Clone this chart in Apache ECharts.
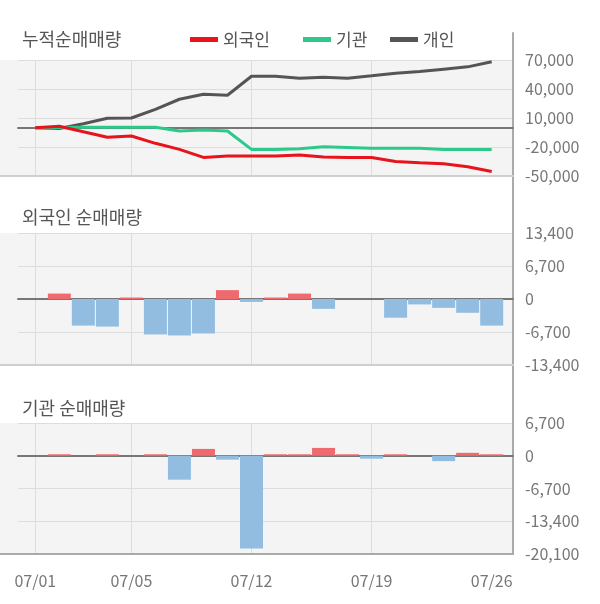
<!DOCTYPE html>
<html>
<head>
<meta charset="utf-8">
<script src="https://cdn.jsdelivr.net/npm/echarts@6/dist/echarts.min.js"></script>
<style>
html,body{margin:0;padding:0;background:#fff;}
#chart{width:600px;height:604px;}
</style>
</head>
<body>
<div id="chart"></div>
<script>
// ---- data ----
const dates = ['07/01','07/02','07/03','07/04','07/05','07/08','07/09','07/10','07/11','07/12',
               '07/15','07/16','07/17','07/18','07/19','07/22','07/23','07/24','07/25','07/26'];
const foreignCum  = [0, 1500, -4300, -10000, -8600, -16200, -22500, -30800, -29400, -29400,
                     -29400, -28300, -30400, -30800, -30800, -34900, -36300, -37300, -40400, -45300];
const instCum     = [0, 300, 500, 500, 500, 500, -3500, -2400, -3500, -22500,
                     -22500, -21800, -19700, -20400, -21400, -21400, -21400, -22500, -22500, -22500];
const personalCum = [0, -800, 4100, 9700, 10000, 19000, 29400, 34600, 33500, 53200,
                     53200, 51200, 52200, 51200, 53600, 56300, 58000, 60500, 62900, 68100];
const foreignNet  = [0, 1100, -5400, -5600, 300, -7200, -7400, -7000, 1800, -600,
                     300, 1100, -2000, 0, 0, -3800, -1100, -1800, -2800, -5400];
const instNet     = [0, 300, 0, 300, 0, 300, -4900, 1400, -800, -19000,
                     300, 300, 1600, 300, -600, 300, 0, -1100, 600, 300];
const cumAxis     = [-50000, 70000, 30000];   // min, max, interval
const foreignAxis = [-13400, 13400, 6700];
const instAxis    = [-20100, 6700, 6700];
const labelIdx    = [0, 4, 9, 14, 19];
const gridIdx     = [0, 4, 9, 14];
const titles      = ['누적순매매량', '외국인 순매매량', '기관 순매매량'];
const seriesNames = ['외국인', '기관', '개인'];

// ---- layout / style ----
const FONT = "'Noto Sans CJK KR', 'Noto Sans', sans-serif";
const RIGHT = 513, GRID_L = 18, CAT_L = 35.3, CAT_R = 491.7;
const panels = [
  {top: 60,  bottom: 176, axis: cumAxis,     titleTop: 30,  border: '#cfcfcf'},
  {top: 233, bottom: 365, axis: foreignAxis, titleTop: 208, border: '#cfcfcf'},
  {top: 423, bottom: 554, axis: instAxis,    titleTop: 399, border: '#aaaaaa'}
];
const LINE_COLORS = ['#e8131b', '#2dc98b', '#555555'];
const POS = '#ee6a6e', NEG = '#92bde0';
const fmt = v => String(v).replace(/\B(?=(\d{3})+(?!\d))/g, ',');

const grid = [], xAxis = [], yAxis = [];
panels.forEach((p, k) => {
  const h = p.bottom - p.top;
  // background grid
  grid.push({left: 0, top: p.top, width: RIGHT, height: h, show: true,
             backgroundColor: '#f4f4f4', borderWidth: 0});
  xAxis.push({gridIndex: 3*k, type: 'category', data: [''], position: 'bottom',
    axisLine: {show: true, onZero: false, lineStyle: {color: p.border, width: 2}},
    axisTick: {show: false}, axisLabel: {show: false}, splitLine: {show: false}});
  yAxis.push({gridIndex: 3*k, type: 'value', min: 0, max: 1, show: false});
  // horizontal grid lines + labels + zero line
  grid.push({left: GRID_L, top: p.top, width: RIGHT - GRID_L, height: h});
  xAxis.push({gridIndex: 3*k+1, type: 'category', data: dates, boundaryGap: false,
    axisLine: {show: true, onZero: true, lineStyle: {color: '#777', width: 2}},
    axisTick: {show: false}, axisLabel: {show: false}, splitLine: {show: false}});
  yAxis.push({gridIndex: 3*k+1, type: 'value', position: 'right',
    min: p.axis[0], max: p.axis[1], interval: p.axis[2],
    axisLine: {show: false}, axisTick: {show: false},
    axisLabel: {fontSize: 16, color: '#777', margin: 12, fontFamily: FONT, formatter: fmt},
    splitLine: {show: true, lineStyle: {color: '#dddddd', width: 1}}});
  // data grid
  grid.push({left: CAT_L, top: p.top, width: CAT_R - CAT_L, height: h});
  xAxis.push({gridIndex: 3*k+2, type: 'category', data: dates, boundaryGap: false,
    axisLine: {show: false}, axisTick: {show: false},
    axisLabel: {show: k === 2, interval: (i) => labelIdx.includes(i),
                fontSize: 16, color: '#777', margin: 19, fontFamily: FONT},
    splitLine: {show: true, interval: (i) => gridIdx.includes(i),
                lineStyle: {color: '#dddddd', width: 1}}});
  yAxis.push({gridIndex: 3*k+2, type: 'value', min: p.axis[0], max: p.axis[1],
    interval: p.axis[2], show: false});
});
// frame
grid.push({left: 0, top: 33, width: RIGHT, height: 554 - 33});
xAxis.push({gridIndex: 9, type: 'category', data: [''], position: 'bottom',
  axisLine: {show: true, onZero: false, lineStyle: {color: '#aaaaaa', width: 2}},
  axisTick: {show: false}, axisLabel: {show: false}, splitLine: {show: false}});
yAxis.push({gridIndex: 9, type: 'value', min: 0, max: 1, position: 'right',
  axisLine: {show: true, lineStyle: {color: '#aaaaaa', width: 2}},
  axisTick: {show: false}, axisLabel: {show: false}, splitLine: {show: false}});

const cumData = [foreignCum, instCum, personalCum];
const zs = [5, 4, 3];
const series = seriesNames.map((n, i) => ({
  name: n, type: 'line', xAxisIndex: 2, yAxisIndex: 2, data: cumData[i],
  symbol: 'none', showSymbol: false, z: zs[i],
  lineStyle: {color: LINE_COLORS[i], width: 3}, itemStyle: {color: LINE_COLORS[i]}
}));
const barColor = p => (p.value >= 0 ? POS : NEG);
series.push({type: 'bar', xAxisIndex: 5, yAxisIndex: 5, data: foreignNet, barWidth: 23,
  clip: false, itemStyle: {color: barColor}});
series.push({type: 'bar', xAxisIndex: 8, yAxisIndex: 8, data: instNet, barWidth: 23,
  clip: false, itemStyle: {color: barColor}});

const legendLeft = [185, 298, 385];
const legend = seriesNames.map((n, i) => ({
  data: [n], left: legendLeft[i], top: 26, icon: 'rect', itemWidth: 28, itemHeight: 5,
  selectedMode: false, textStyle: {fontSize: 17, color: '#555', fontFamily: FONT}
}));
const title = titles.map((t, k) => ({
  text: t, left: 22, top: panels[k].titleTop, padding: 0,
  textStyle: {fontSize: 18, fontWeight: 'normal', color: '#555', fontFamily: FONT}
}));

const chart = echarts.init(document.getElementById('chart'), null, {renderer: 'canvas'});
chart.setOption({animation: false, textStyle: {fontFamily: FONT},
  title, legend, grid, xAxis, yAxis, series});
</script>
</body>
</html>
